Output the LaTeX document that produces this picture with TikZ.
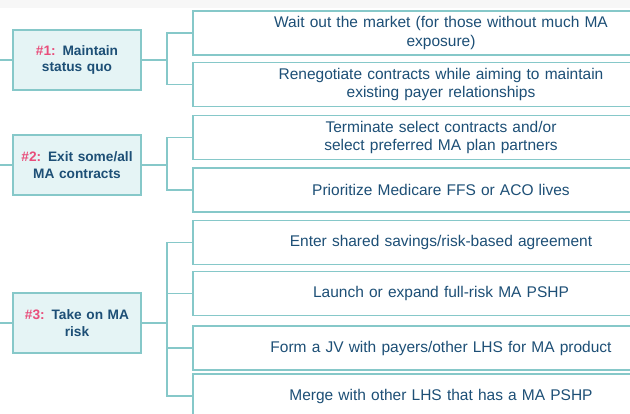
\documentclass[tikz,border=0pt]{standalone}
\usepackage{fontspec}
\setmainfont{Liberation Sans}
\usetikzlibrary{positioning}

\definecolor{tealline}{HTML}{86C8C9}
\definecolor{tealfill}{HTML}{E5F4F5}
\definecolor{navytext}{HTML}{1D4F76}
\definecolor{pinkmark}{HTML}{E94E7B}

\tikzset{
    option/.style={rectangle, draw=tealline, line width=1.4pt, fill=tealfill, text=navytext,
        minimum width=128pt, minimum height=60pt, text width=124pt, align=center,
        font=\fontsize{13.7}{16.5}\selectfont\bfseries, inner sep=0pt},
    tactic/.style={rectangle, draw=tealline, line width=1.4pt, fill=white, text=navytext,
        minimum width=496pt, minimum height=44pt, text width=480pt, align=center,
        font=\fontsize{15.5}{18.5}\selectfont, inner sep=0pt},
    link/.style={draw=tealline, line width=1.4pt},
}
\newcommand{\num}[1]{\textcolor{pinkmark}{#1}}

\begin{document}
\begin{tikzpicture}[x=1pt, y=-1pt]
    \useasboundingbox (0,0) rectangle (630,413);
    \clip (0,0) rectangle (630,413);
    \fill [black!3] (0,0) rectangle (630,8);

    % strategies on the left
    \node (status) [option] at (77,60) {\num{\#1:} Maintain\\status quo};
    \node (exitma) [option] at (77,165) {\num{\#2:} Exit some/all\\MA contracts};
    \node (takerisk) [option] at (77,323) {\num{\#3:} Take on MA\\risk};

    % tactics on the right
    \node (wait) [tactic] at (441,33) {Wait out the market (for those without much MA\\exposure)};
    \node (renego) [tactic] at (441,84.5) {Renegotiate contracts while aiming to maintain\\existing payer relationships};
    \node (terminate) [tactic] at (441,137.5) {Terminate select contracts and/or\\select preferred MA plan partners};
    \node (prioritize) [tactic] at (441,190) {Prioritize Medicare FFS or ACO lives};
    \node (enter) [tactic] at (441,242.5) {Enter shared savings/risk-based agreement};
    \node (launch) [tactic] at (441,293.5) {Launch or expand full-risk MA PSHP};
    \node (formjv) [tactic] at (441,348) {Form a JV with payers/other LHS for MA product};
    \node (merge) [tactic] at (441,396) {Merge with other LHS that has a MA PSHP};

    % stubs coming in from the left edge
    \coordinate (in1) at (0,60);
    \coordinate (in2) at (0,165);
    \coordinate (in3) at (0,323);
    \draw [link] (in1) -- (status);
    \draw [link] (in2) -- (exitma);
    \draw [link] (in3) -- (takerisk);

    % branching connectors
    \coordinate (j1) at (167,60);
    \coordinate (j2) at (167,165);
    \coordinate (j3) at (167,323);
    \draw [link] (status) -- (j1);
    \draw [link] (exitma) -- (j2);
    \draw [link] (takerisk) -- (j3);
    \foreach \t in {wait, renego} \draw [link] (j1) |- (\t.west);
    \foreach \t in {terminate, prioritize} \draw [link] (j2) |- (\t.west);
    \foreach \t in {enter, launch, formjv, merge} \draw [link] (j3) |- (\t.west);
\end{tikzpicture}
\end{document}
